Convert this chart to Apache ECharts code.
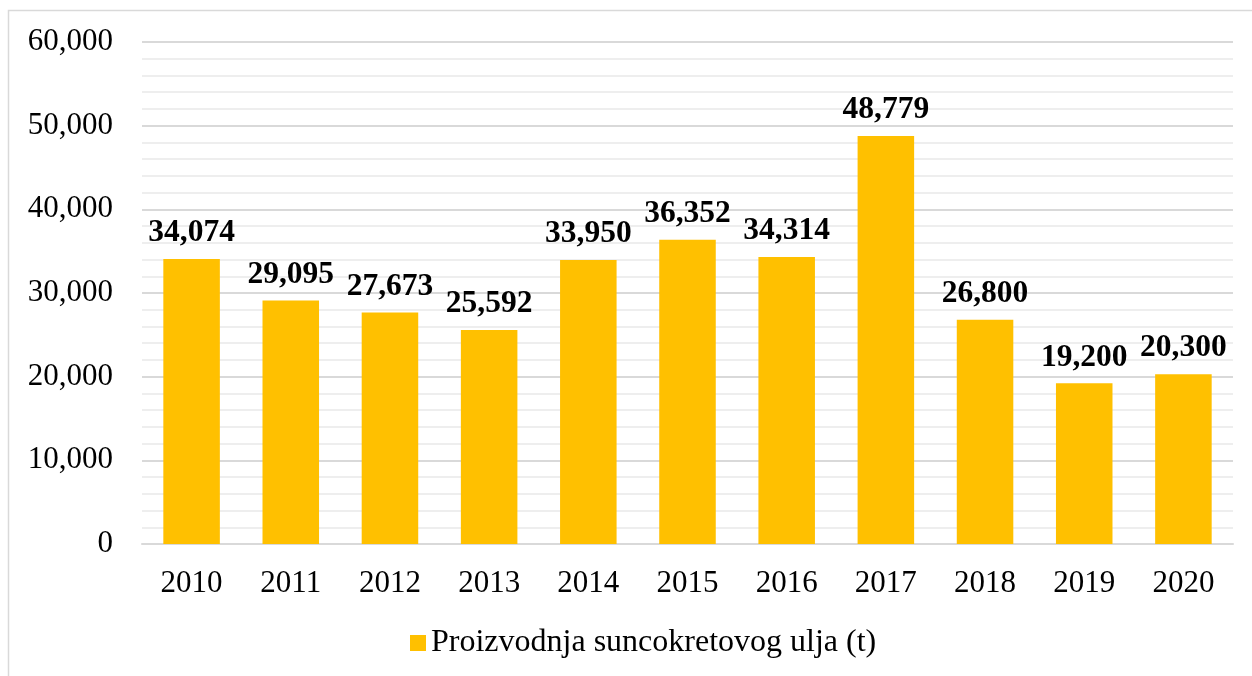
<!DOCTYPE html>
<html>
<head>
<meta charset="utf-8">
<script src="https://cdn.jsdelivr.net/npm/echarts@6/dist/echarts.min.js"></script>
<style>
  html, body { margin: 0; padding: 0; background: #fff; }
  #chart { width: 1252px; height: 676px; }
</style>
</head>
<body>
<div id="chart"></div>
<script>
// categories and values
const years = ["2010", "2011", "2012", "2013", "2014", "2015", "2016", "2017", "2018", "2019", "2020"];
const production = [34074, 29095, 27673, 25592, 33950, 36352, 34314, 48779, 26800, 19200, 20300];
const seriesName = "Proizvodnja suncokretovog ulja (t)";

const myChart = echarts.init(document.getElementById("chart"));
const font = "'Liberation Serif', 'Times New Roman', serif";

const option = {
  animation: false,
  textStyle: { fontFamily: font },
  graphic: [
    {
      type: "rect",
      shape: { x: 8.5, y: 10.5, width: 1260, height: 700 },
      style: { fill: "none", stroke: "#d9d9d9", lineWidth: 1.5 },
      silent: true,
    },
  ],
  grid: {
    left: 142,
    right: 19,
    top: 42,
    bottom: 132,
    containLabel: false,
  },
  legend: {
    bottom: 12,
    left: 405,
    icon: "rect",
    itemWidth: 16,
    itemHeight: 16,
    itemGap: 10,
    textStyle: { fontFamily: font, fontSize: 32, color: "#000" },
    data: [seriesName],
  },
  xAxis: {
    type: "category",
    data: years,
    axisTick: { show: false },
    axisLine: { lineStyle: { color: "#d9d9d9", width: 2 } },
    axisLabel: { fontFamily: font, fontSize: 31, color: "#000", margin: 24 },
  },
  yAxis: {
    type: "value",
    min: 0,
    max: 60000,
    interval: 10000,
    axisLine: { show: false },
    axisTick: { show: false },
    axisLabel: {
      fontFamily: font,
      fontSize: 31,
      color: "#000",
      margin: 29,
      formatter: (v) => v.toLocaleString("en-US"),
    },
    splitLine: { lineStyle: { color: "#d9d9d9", width: 2 } },
    minorTick: { show: false, splitNumber: 5 },
    minorSplitLine: { show: true, lineStyle: { color: "#eeeeee", width: 2 } },
  },
  series: [
    {
      name: seriesName,
      type: "bar",
      data: production,
      barCategoryGap: "43%",
      itemStyle: { color: "#ffc000" },
      label: {
        show: true,
        position: "top",
        distance: 10,
        fontFamily: font,
        fontSize: 31.5,
        fontWeight: "bold",
        color: "#000",
        formatter: (p) => p.value.toLocaleString("en-US"),
      },
    },
  ],
};

myChart.setOption(option);
</script>
</body>
</html>
